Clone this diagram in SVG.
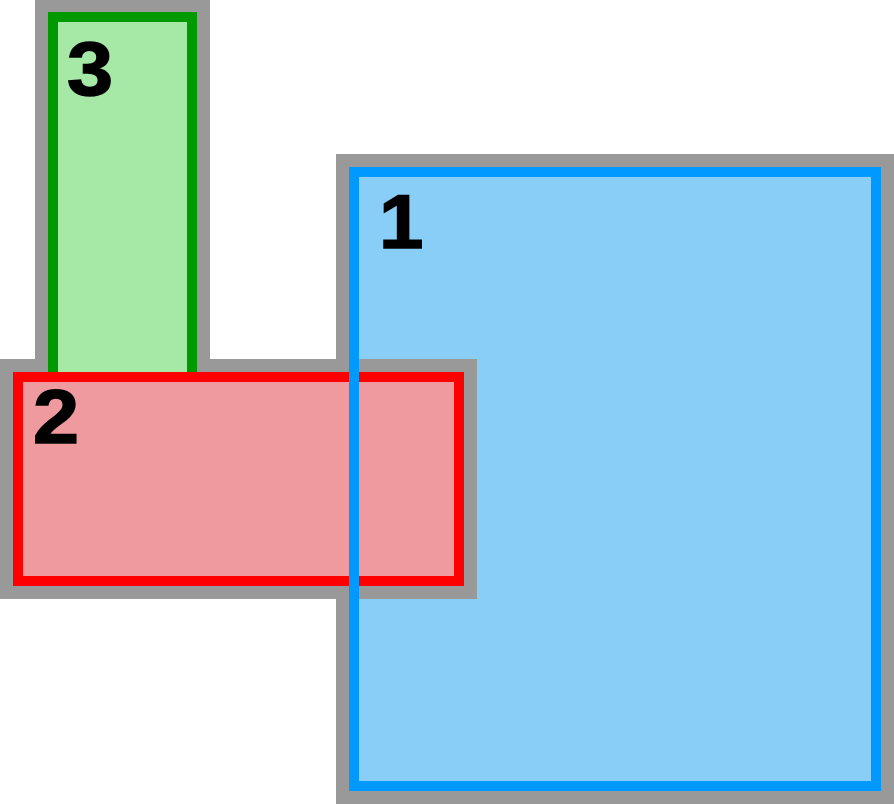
<svg xmlns="http://www.w3.org/2000/svg" width="894" height="804" viewBox="0 0 894 804">
<style>
.halo{fill:none;stroke:#999999;stroke-width:36;stroke-linejoin:miter}
.lbl{font-family:"Liberation Sans",Arial,sans-serif;font-weight:bold;font-size:76px;fill:#000000;stroke:#000000;stroke-width:1.5}
</style>
<rect width="894" height="804" fill="#ffffff"/>
<g id="node1">
<rect class="halo" x="354" y="172" width="522" height="614"/>
<rect x="354" y="172" width="522" height="614" fill="#88cef6"/>
</g>
<g id="node2-halo">
<rect class="halo" x="18" y="377" width="441" height="204"/>
</g>
<g id="node3">
<rect class="halo" x="53" y="17" width="139" height="400"/>
<rect x="53" y="17" width="139" height="400" fill="#a6e8a6" stroke="#009900" stroke-width="10"/>
<text class="lbl" transform="translate(67,95) scale(1.09,1)">3</text>
</g>
<g id="node2">
<rect x="18" y="377" width="441" height="204" fill="#ef9a9f" stroke="#ff0000" stroke-width="10"/>
<text class="lbl" transform="translate(33,443) scale(1.09,1)">2</text>
</g>
<g id="node1-border">
<rect x="354" y="172" width="522" height="614" fill="none" stroke="#0099ff" stroke-width="10"/>
<text class="lbl" transform="translate(379,248) scale(1.05,1)">1</text>
</g>
<g id="connectors"></g>
</svg>
